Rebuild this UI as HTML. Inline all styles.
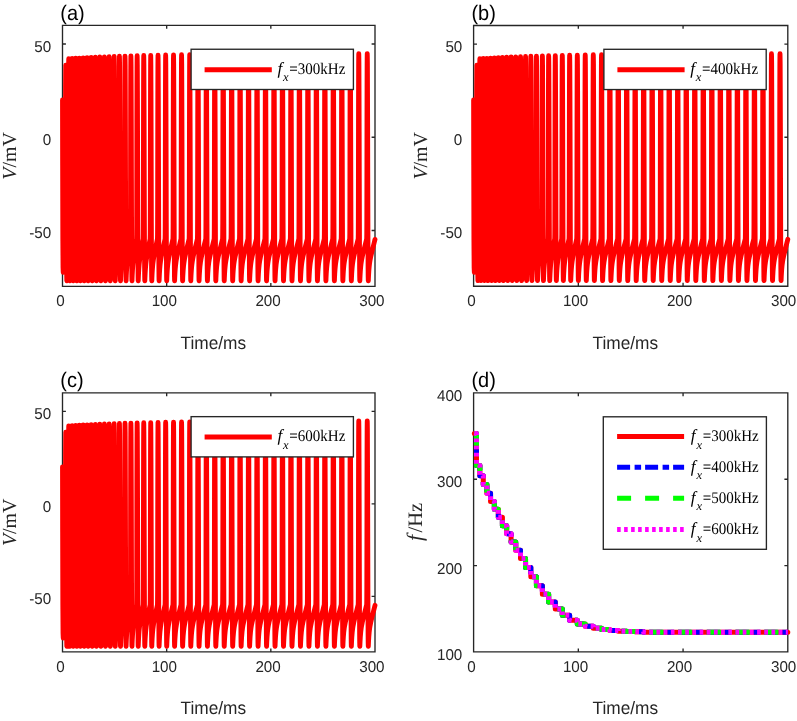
<!DOCTYPE html>
<html><head><meta charset="utf-8"><title>figure</title>
<style>html,body{margin:0;padding:0;background:#fff}svg{display:block;will-change:transform}text{white-space:pre;text-rendering:geometricPrecision}</style></head>
<body>
<svg width="797" height="721" viewBox="0 0 797 721">
<rect width="797" height="721" fill="#fff"/>
<defs>
<path id="wave" fill="none" stroke="#f00" stroke-width="4.85" stroke-linejoin="round" stroke-linecap="round" d="M0.00 74.57L0.12 139.82L0.31 214.39L0.52 242.36L0.73 247.02L2.22 234.90L2.53 223.71L2.69 213.46L2.76 208.80L2.82 197.61L2.88 175.24L2.93 139.82L2.99 96.94L3.06 61.52L3.14 50.89L3.20 42.69L3.26 39.71L3.34 41.95L3.43 49.03L3.54 65.25L3.68 106.26L3.80 152.87L3.93 197.61L4.03 227.44L4.12 243.29L4.20 251.68L4.28 255.03L4.36 255.41L4.46 250.90L4.56 246.70L4.69 241.99L4.84 236.89L5.00 231.48L5.19 225.80L5.40 219.89L5.64 213.46L5.71 208.80L5.77 197.61L5.82 175.24L5.88 139.82L5.94 96.94L6.01 61.52L6.09 44.50L6.15 36.30L6.21 33.32L6.28 35.55L6.38 42.64L6.49 65.25L6.63 106.26L6.75 152.87L6.88 197.61L6.98 227.44L7.06 243.29L7.15 251.68L7.23 255.03L7.30 255.41L7.41 251.61L7.51 248.13L7.64 244.28L7.78 240.18L7.95 235.91L8.14 231.53L8.35 227.04L8.66 220.86L9.06 213.46L9.14 208.80L9.20 197.61L9.25 175.24L9.30 139.82L9.37 96.94L9.44 61.52L9.51 44.28L9.57 36.08L9.64 33.09L9.71 35.33L9.80 42.42L9.92 65.25L10.05 106.26L10.18 152.87L10.30 197.61L10.41 227.44L10.49 243.29L10.57 251.68L10.66 255.03L10.73 255.41L10.83 251.73L10.94 248.36L11.06 244.65L11.21 240.71L11.38 236.62L11.56 232.44L11.77 228.19L12.08 222.35L12.50 215.22L12.61 213.46L12.68 208.80L12.74 197.61L12.80 175.24L12.85 139.82L12.91 96.94L12.98 61.52L13.06 44.06L13.12 35.86L13.18 32.88L13.25 35.11L13.35 42.20L13.46 65.25L13.60 106.26L13.72 152.87L13.85 197.61L13.95 227.44L14.04 243.29L14.12 251.68L14.20 255.03L14.28 255.41L14.38 251.84L14.48 248.57L14.61 244.99L14.75 241.20L14.92 237.29L15.11 233.30L15.32 229.26L15.63 223.74L16.05 217.04L16.28 213.46L16.35 208.80L16.42 197.61L16.47 175.24L16.52 139.82L16.58 96.94L16.66 61.52L16.73 43.84L16.79 35.64L16.85 32.66L16.93 34.90L17.02 41.98L17.14 65.25L17.27 106.26L17.40 152.87L17.52 197.61L17.63 227.44L17.71 243.29L17.79 251.68L17.88 255.03L17.95 255.41L18.05 251.93L18.16 248.75L18.28 245.28L18.43 241.62L18.59 237.85L18.78 234.03L18.99 230.17L19.30 224.93L19.72 218.59L20.08 213.46L20.15 208.80L20.21 197.61L20.27 175.24L20.32 139.82L20.38 96.94L20.45 61.52L20.53 43.63L20.59 35.43L20.65 32.44L20.73 34.68L20.82 41.77L20.93 65.25L21.07 106.26L21.19 152.87L21.32 197.61L21.42 227.44L21.51 243.29L21.59 251.68L21.67 255.03L21.75 255.41L21.85 252.01L21.95 248.92L22.08 245.55L22.23 242.00L22.39 238.37L22.58 234.70L22.79 231.00L23.10 226.01L23.52 220.01L24.01 213.46L24.08 208.80L24.14 197.61L24.20 175.24L24.25 139.82L24.31 96.94L24.38 61.52L24.46 43.42L24.52 35.22L24.58 32.23L24.65 34.47L24.75 41.56L24.86 65.25L25.00 106.26L25.12 152.87L25.25 197.61L25.35 227.44L25.44 243.29L25.52 251.68L25.60 255.03L25.67 255.41L25.78 252.09L25.88 249.08L26.01 245.80L26.15 242.37L26.32 238.87L26.51 235.34L26.72 231.80L27.03 227.05L27.45 221.37L28.08 213.46L28.15 208.80L28.22 197.61L28.27 175.24L28.32 139.82L28.38 96.94L28.46 61.52L28.53 43.21L28.59 35.01L28.65 32.03L28.73 34.26L28.82 41.35L28.93 65.25L29.07 106.26L29.19 152.87L29.32 197.61L29.42 227.44L29.51 243.29L29.59 251.68L29.67 255.03L29.75 255.41L29.85 252.17L29.96 249.23L30.08 246.05L30.23 242.73L30.39 239.35L30.58 235.96L30.79 232.58L31.10 228.06L31.52 222.69L32.14 215.36L32.31 213.46L32.38 208.80L32.45 197.61L32.50 175.24L32.55 139.82L32.61 96.94L32.69 61.52L32.76 43.01L32.82 34.80L32.88 31.82L32.96 34.06L33.05 41.14L33.17 65.25L33.30 106.26L33.43 152.87L33.55 197.61L33.66 227.44L33.74 243.29L33.82 251.68L33.91 255.03L33.98 255.41L34.08 252.24L34.19 249.38L34.31 246.28L34.46 243.06L34.62 239.79L34.81 236.53L35.02 233.29L35.33 228.99L35.75 223.90L36.37 217.00L36.71 213.46L36.78 208.80L36.85 197.61L36.90 175.24L36.95 139.82L37.01 96.94L37.09 61.52L37.16 42.81L37.22 34.60L37.28 31.62L37.36 33.86L37.45 40.94L37.57 65.25L37.70 106.26L37.83 152.87L37.95 197.61L38.06 227.44L38.14 243.29L38.22 251.68L38.31 255.03L38.38 255.41L38.48 252.31L38.59 249.51L38.71 246.50L38.86 243.37L39.02 240.21L39.21 237.07L39.42 233.97L39.73 229.87L40.15 225.06L40.77 218.57L41.30 213.46L41.37 208.80L41.43 197.61L41.48 175.24L41.54 139.82L41.60 96.94L41.67 61.52L41.74 42.61L41.81 34.41L41.87 31.42L41.94 33.66L42.04 40.74L42.15 65.25L42.29 106.26L42.41 152.87L42.54 197.61L42.64 227.44L42.72 243.29L42.81 251.68L42.89 255.03L42.96 255.41L43.07 252.37L43.17 249.64L43.30 246.70L43.44 243.66L43.61 240.61L43.80 237.58L44.00 234.61L44.32 230.70L44.73 226.14L45.36 220.04L46.08 213.46L46.15 208.80L46.22 197.61L46.27 175.24L46.32 139.82L46.38 96.94L46.46 61.52L46.53 42.41L46.59 34.21L46.65 31.23L46.73 33.47L46.82 40.55L46.93 65.25L47.07 106.26L47.19 152.87L47.32 197.61L47.42 227.44L47.51 243.29L47.59 251.68L47.67 255.03L47.75 255.41L47.85 252.43L47.96 249.76L48.08 246.90L48.23 243.95L48.39 240.99L48.58 238.08L48.79 235.23L49.10 231.51L49.52 227.19L50.14 221.46L51.09 213.46L51.16 208.80L51.22 197.61L51.27 175.24L51.33 139.82L51.39 96.94L51.46 61.52L51.53 42.22L51.60 34.02L51.66 31.04L51.73 33.27L51.83 40.36L51.94 65.25L52.08 106.26L52.20 152.87L52.33 197.61L52.43 227.44L52.51 243.29L52.60 251.68L52.68 255.03L52.75 255.41L52.86 252.50L52.96 249.89L53.09 247.10L53.23 244.24L53.40 241.38L53.59 238.58L53.79 235.86L54.11 232.33L54.52 228.26L55.15 222.91L56.09 215.53L56.36 213.46L56.43 208.80L56.49 197.61L56.54 175.24L56.60 139.82L56.66 96.94L56.73 61.52L56.80 42.04L56.87 33.83L56.93 30.85L57.00 33.09L57.10 40.17L57.21 65.25L57.35 106.26L57.47 152.87L57.60 197.61L57.70 227.44L57.78 243.29L57.87 251.68L57.95 255.03L58.02 255.41L58.13 252.56L58.23 250.01L58.36 247.30L58.50 244.52L58.67 241.76L58.86 239.07L59.07 236.47L59.38 233.12L59.79 229.30L60.42 224.31L61.36 217.48L61.93 213.46L62.00 208.80L62.06 197.61L62.11 175.24L62.17 139.82L62.23 96.94L62.30 61.52L62.37 41.85L62.44 33.65L62.50 30.66L62.57 32.90L62.67 39.99L62.78 65.25L62.92 106.26L63.04 152.87L63.17 197.61L63.27 227.44L63.35 243.29L63.44 251.68L63.52 255.03L63.59 255.41L63.70 252.61L63.80 250.13L63.93 247.48L64.07 244.78L64.24 242.11L64.43 239.52L64.64 237.04L64.95 233.86L65.36 230.27L65.99 225.62L66.93 219.30L67.83 213.46L67.90 208.80L67.96 197.61L68.02 175.24L68.07 139.82L68.13 96.94L68.20 61.52L68.28 41.67L68.34 33.46L68.40 30.48L68.47 32.72L68.57 39.80L68.68 65.25L68.82 106.26L68.94 152.87L69.07 197.61L69.17 227.44L69.26 243.29L69.34 251.68L69.42 255.03L69.50 255.41L69.60 252.66L69.70 250.23L69.83 247.64L69.97 245.01L70.14 242.42L70.33 239.92L70.54 237.54L70.85 234.51L71.27 231.12L71.89 226.76L72.83 220.90L74.07 213.46L74.14 208.80L74.21 197.61L74.26 175.24L74.31 139.82L74.37 96.94L74.45 61.52L74.52 41.49L74.58 33.28L74.64 30.30L74.72 32.54L74.81 39.62L74.93 65.25L75.06 106.26L75.19 152.87L75.31 197.61L75.41 227.44L75.50 243.29L75.58 251.68L75.66 255.03L75.74 255.41L75.84 252.71L75.95 250.32L76.07 247.78L76.22 245.22L76.38 242.70L76.57 240.28L76.78 237.99L77.09 235.09L77.51 231.88L78.13 227.80L79.07 222.34L80.32 215.40L80.67 213.46L80.75 208.80L80.81 197.61L80.86 175.24L80.91 139.82L80.98 96.94L81.05 61.52L81.12 41.31L81.18 33.11L81.25 30.13L81.32 32.36L81.41 39.45L81.53 65.25L81.66 106.26L81.79 152.87L81.91 197.61L82.02 227.44L82.10 243.29L82.18 251.68L82.27 255.03L82.34 255.41L82.44 252.75L82.55 250.39L82.67 247.91L82.82 245.40L82.99 242.94L83.17 240.59L83.38 238.38L83.69 235.60L84.11 232.54L84.74 228.69L85.67 223.58L86.92 217.10L87.63 213.46L87.71 208.80L87.77 197.61L87.82 175.24L87.87 139.82L87.94 96.94L88.01 61.52L88.08 41.14L88.15 32.94L88.21 29.96L88.28 32.20L88.37 39.28L88.49 65.25L88.62 106.26L88.75 152.87L88.87 197.61L88.98 227.44L89.06 243.29L89.15 251.68L89.23 255.03L89.30 255.41L89.41 252.78L89.51 250.46L89.63 248.01L89.78 245.55L89.95 243.15L90.13 240.86L90.34 238.71L90.66 236.03L91.07 233.11L91.70 229.46L92.63 224.65L93.88 218.58L94.95 213.46L95.02 208.80L95.09 197.61L95.14 175.24L95.19 139.82L95.25 96.94L95.33 61.52L95.40 40.98L95.46 32.78L95.52 29.80L95.60 32.03L95.69 39.12L95.81 65.25L95.94 106.26L96.07 152.87L96.19 197.61L96.30 227.44L96.38 243.29L96.46 251.68L96.55 255.03L96.62 255.41L96.72 252.81L96.83 250.51L96.95 248.10L97.10 245.67L97.26 243.31L97.45 241.07L97.66 238.97L97.97 236.36L98.39 233.55L99.01 230.05L99.95 225.47L101.20 219.71L102.45 214.02L102.57 213.46L102.65 208.80L102.71 197.61L102.76 175.24L102.81 139.82L102.88 96.94L102.95 61.52L103.02 40.83L103.08 32.63L103.15 29.64L103.22 31.88L103.31 38.97L103.43 65.25L103.56 106.26L103.69 152.87L103.81 197.61L103.92 227.44L104.00 243.29L104.08 251.68L104.17 255.03L104.24 255.41L104.35 252.83L104.45 250.55L104.57 248.16L104.72 245.76L104.89 243.43L105.07 241.22L105.28 239.16L105.60 236.62L106.01 233.88L106.64 230.50L107.57 226.10L108.82 220.57L110.07 215.11L110.45 213.46L110.53 208.80L110.59 197.61L110.64 175.24L110.69 139.82L110.76 96.94L110.83 61.52L110.90 40.69L110.96 32.48L111.03 29.50L111.10 31.74L111.19 38.82L111.31 65.25L111.44 106.26L111.57 152.87L111.69 197.61L111.80 227.44L111.88 243.29L111.96 251.68L112.05 255.03L112.12 255.41L112.22 252.84L112.33 250.57L112.45 248.19L112.60 245.80L112.77 243.49L112.95 241.31L113.16 239.27L113.47 236.75L113.89 234.05L114.52 230.74L115.45 226.43L116.70 221.02L117.95 215.69L118.48 213.46L118.55 208.80L118.61 197.61L118.67 175.24L118.72 139.82L118.78 96.94L118.85 61.52L118.93 40.55L118.99 32.35L119.05 29.37L119.12 31.61L119.22 38.69L119.33 65.25L119.47 106.26L119.59 152.87L119.72 197.61L119.82 227.44L119.90 243.29L119.99 251.68L120.07 255.03L120.14 255.41L120.25 252.85L120.35 250.59L120.48 248.22L120.62 245.85L120.79 243.56L120.98 241.39L121.19 239.37L121.50 236.88L121.92 234.23L122.54 230.97L123.48 226.75L124.73 221.47L125.98 216.26L126.65 213.46L126.72 208.80L126.79 197.61L126.84 175.24L126.89 139.82L126.95 96.94L127.03 61.52L127.10 40.43L127.16 32.23L127.22 29.25L127.30 31.49L127.39 38.57L127.50 65.25L127.64 106.26L127.77 152.87L127.89 197.61L127.99 227.44L128.08 243.29L128.16 251.68L128.24 255.03L128.32 255.41L128.42 252.85L128.53 250.60L128.65 248.24L128.80 245.88L128.96 243.59L129.15 241.44L129.36 239.43L129.67 236.97L130.09 234.33L130.71 231.12L131.65 226.95L132.90 221.74L134.15 216.61L134.92 213.46L134.99 208.80L135.05 197.61L135.11 175.24L135.16 139.82L135.22 96.94L135.29 61.52L135.37 40.32L135.43 32.12L135.49 29.14L135.57 31.38L135.66 38.46L135.77 65.25L135.91 106.26L136.03 152.87L136.16 197.61L136.26 227.44L136.35 243.29L136.43 251.68L136.51 255.03L136.59 255.41L136.69 252.86L136.79 250.61L136.92 248.26L137.07 245.91L137.23 243.63L137.42 241.48L137.63 239.48L137.94 237.04L138.36 234.42L138.98 231.24L139.92 227.13L141.17 221.98L142.42 216.91L143.27 213.46L143.35 208.80L143.41 197.61L143.46 175.24L143.51 139.82L143.57 96.94L143.65 61.52L143.72 40.22L143.78 32.02L143.85 29.04L143.92 31.28L144.01 38.36L144.13 65.25L144.26 106.26L144.39 152.87L144.51 197.61L144.62 227.44L144.70 243.29L144.78 251.68L144.87 255.03L144.94 255.41L145.04 252.86L145.15 250.62L145.27 248.27L145.42 245.92L145.59 243.64L145.77 241.50L145.98 239.51L146.29 237.07L146.71 234.47L147.34 231.30L148.27 227.21L149.52 222.10L150.77 217.06L151.67 213.46L151.74 208.80L151.80 197.61L151.86 175.24L151.91 139.82L151.97 96.94L152.04 61.52L152.12 40.13L152.18 31.93L152.24 28.95L152.32 31.18L152.41 38.27L152.52 65.25L152.66 106.26L152.78 152.87L152.91 197.61L153.01 227.44L153.10 243.29L153.18 251.68L153.26 255.03L153.34 255.41L153.44 252.86L153.54 250.62L153.67 248.27L153.82 245.92L153.98 243.65L154.17 241.51L154.38 239.53L154.69 237.09L155.11 234.50L155.73 231.34L156.67 227.26L157.92 222.17L159.17 217.15L160.09 213.46L160.16 208.80L160.23 197.61L160.28 175.24L160.33 139.82L160.39 96.94L160.47 61.52L160.54 40.05L160.60 31.85L160.66 28.87L160.74 31.10L160.83 38.19L160.94 65.25L161.08 106.26L161.20 152.87L161.33 197.61L161.43 227.44L161.52 243.29L161.60 251.68L161.68 255.03L161.76 255.41L161.86 252.86L161.97 250.63L162.09 248.28L162.24 245.93L162.40 243.66L162.59 241.53L162.80 239.54L163.11 237.11L163.53 234.52L164.15 231.37L165.09 227.31L166.34 222.23L167.59 217.23L168.53 213.46L168.61 208.80L168.67 197.61L168.72 175.24L168.77 139.82L168.84 96.94L168.91 61.52L168.98 39.98L169.05 31.78L169.11 28.79L169.18 31.03L169.27 38.11L169.39 65.25L169.52 106.26L169.65 152.87L169.77 197.61L169.88 227.44L169.96 243.29L170.05 251.68L170.13 255.03L170.20 255.41L170.31 252.87L170.41 250.63L170.53 248.28L170.68 245.94L170.85 243.67L171.03 241.53L171.24 239.55L171.56 237.12L171.97 234.54L172.60 231.39L173.53 227.34L174.78 222.27L176.03 217.29L177.00 213.46L177.07 208.80L177.13 197.61L177.18 175.24L177.24 139.82L177.30 96.94L177.37 61.52L177.44 39.91L177.51 31.71L177.57 28.73L177.64 30.96L177.74 38.05L177.85 65.25L177.99 106.26L178.11 152.87L178.24 197.61L178.34 227.44L178.42 243.29L178.51 251.68L178.59 255.03L178.66 255.41L178.77 252.87L178.87 250.63L179.00 248.28L179.14 245.94L179.31 243.67L179.50 241.54L179.70 239.56L180.02 237.13L180.43 234.55L181.06 231.41L182.00 227.36L183.25 222.30L184.50 217.32L185.47 213.46L185.54 208.80L185.60 197.61L185.65 175.24L185.71 139.82L185.77 96.94L185.84 61.52L185.91 39.85L185.98 31.65L186.04 28.67L186.11 30.90L186.21 37.99L186.32 65.25L186.46 106.26L186.58 152.87L186.71 197.61L186.81 227.44L186.89 243.29L186.98 251.68L187.06 255.03L187.13 255.41L187.24 252.87L187.34 250.63L187.47 248.29L187.61 245.94L187.78 243.67L187.97 241.54L188.18 239.56L188.49 237.14L188.90 234.55L189.53 231.41L190.47 227.37L191.72 222.31L192.97 217.34L193.94 213.46L194.02 208.80L194.08 197.61L194.13 175.24L194.18 139.82L194.24 96.94L194.32 61.52L194.39 39.80L194.45 31.60L194.52 28.61L194.59 30.85L194.68 37.94L194.80 65.25L194.93 106.26L195.06 152.87L195.18 197.61L195.29 227.44L195.37 243.29L195.45 251.68L195.54 255.03L195.61 255.41L195.71 252.87L195.82 250.63L195.94 248.29L196.09 245.94L196.26 243.67L196.44 241.54L196.65 239.56L196.96 237.14L197.38 234.55L198.01 231.42L198.94 227.37L200.19 222.32L201.44 217.34L202.42 213.46L202.49 208.80L202.55 197.61L202.61 175.24L202.66 139.82L202.72 96.94L202.79 61.52L202.87 39.75L202.93 31.55L202.99 28.57L203.06 30.80L203.16 37.89L203.27 65.25L203.41 106.26L203.53 152.87L203.66 197.61L203.76 227.44L203.85 243.29L203.93 251.68L204.01 255.03L204.09 255.41L204.19 252.87L204.29 250.63L204.42 248.29L204.56 245.94L204.73 243.68L204.92 241.54L205.13 239.56L205.44 237.14L205.86 234.55L206.48 231.42L207.42 227.37L208.67 222.32L209.92 217.34L210.90 213.46L210.97 208.80L211.03 197.61L211.08 175.24L211.14 139.82L211.20 96.94L211.27 61.52L211.34 39.71L211.41 31.51L211.47 28.52L211.54 30.76L211.64 37.85L211.75 65.25L211.89 106.26L212.01 152.87L212.14 197.61L212.24 227.44L212.32 243.29L212.41 251.68L212.49 255.03L212.56 255.41L212.67 252.87L212.77 250.63L212.90 248.29L213.04 245.94L213.21 243.68L213.40 241.54L213.60 239.56L213.92 237.14L214.33 234.55L214.96 231.42L215.90 227.37L217.15 222.32L218.40 217.34L219.37 213.46L219.45 208.80L219.51 197.61L219.56 175.24L219.61 139.82L219.67 96.94L219.75 61.52L219.82 39.67L219.88 31.47L219.95 28.49L220.02 30.72L220.11 37.81L220.23 65.25L220.36 106.26L220.49 152.87L220.61 197.61L220.72 227.44L220.80 243.29L220.88 251.68L220.97 255.03L221.04 255.41L221.14 252.87L221.25 250.63L221.37 248.29L221.52 245.94L221.69 243.68L221.87 241.54L222.08 239.56L222.39 237.14L222.81 234.56L223.44 231.42L224.37 227.37L225.62 222.32L226.87 217.34L227.85 213.46L227.92 208.80L227.99 197.61L228.04 175.24L228.09 139.82L228.15 96.94L228.23 61.52L228.30 39.64L228.36 31.43L228.42 28.45L228.50 30.69L228.59 37.77L228.70 65.25L228.84 106.26L228.97 152.87L229.09 197.61L229.19 227.44L229.28 243.29L229.36 251.68L229.44 255.03L229.52 255.41L229.62 252.87L229.73 250.63L229.85 248.29L230.00 245.94L230.16 243.68L230.35 241.54L230.56 239.56L230.87 237.14L231.29 234.56L231.91 231.42L232.85 227.37L234.10 222.32L235.35 217.34L236.33 213.46L236.40 208.80L236.46 197.61L236.52 175.24L236.57 139.82L236.63 96.94L236.70 61.52L236.78 39.61L236.84 31.40L236.90 28.42L236.97 30.66L237.07 37.74L237.18 65.25L237.32 106.26L237.44 152.87L237.57 197.61L237.67 227.44L237.76 243.29L237.84 251.68L237.92 255.03L238.00 255.41L238.10 252.87L238.20 250.63L238.33 248.29L238.47 245.94L238.64 243.68L238.83 241.54L239.04 239.56L239.35 237.14L239.77 234.56L240.39 231.42L241.33 227.37L242.58 222.32L243.83 217.35L244.81 213.46L244.88 208.80L244.94 197.61L244.99 175.24L245.05 139.82L245.11 96.94L245.18 61.52L245.25 39.58L245.32 31.38L245.38 28.39L245.45 30.63L245.55 37.71L245.66 65.25L245.80 106.26L245.92 152.87L246.05 197.61L246.15 227.44L246.23 243.29L246.32 251.68L246.40 255.03L246.47 255.41L246.58 252.87L246.68 250.63L246.81 248.29L246.95 245.94L247.12 243.68L247.31 241.54L247.52 239.56L247.83 237.14L248.24 234.56L248.87 231.42L249.81 227.37L251.06 222.32L252.31 217.35L253.29 213.46L253.36 208.80L253.42 197.61L253.47 175.24L253.53 139.82L253.59 96.94L253.66 61.52L253.73 39.55L253.80 31.35L253.86 28.37L253.93 30.60L254.03 37.69L254.14 65.25L254.28 106.26L254.40 152.87L254.53 197.61L254.63 227.44L254.71 243.29L254.80 251.68L254.88 255.03L254.95 255.41L255.06 252.87L255.16 250.63L255.29 248.29L255.43 245.94L255.60 243.68L255.79 241.54L255.99 239.56L256.31 237.14L256.72 234.56L257.35 231.42L258.29 227.37L259.54 222.32L260.79 217.35L261.76 213.46L261.84 208.80L261.90 197.61L261.95 175.24L262.00 139.82L262.07 96.94L262.14 61.52L262.21 39.53L262.28 31.33L262.34 28.35L262.41 30.58L262.50 37.67L262.62 65.25L262.75 106.26L262.88 152.87L263.00 197.61L263.11 227.44L263.19 243.29L263.28 251.68L263.36 255.03L263.43 255.41L263.54 252.87L263.64 250.63L263.76 248.29L263.91 245.94L264.08 243.68L264.26 241.54L264.47 239.56L264.79 237.14L265.20 234.56L265.83 231.42L266.76 227.38L268.01 222.32L269.26 217.35L270.24 213.46L270.32 208.80L270.38 197.61L270.43 175.24L270.48 139.82L270.55 96.94L270.62 61.52L270.69 39.51L270.75 31.31L270.82 28.33L270.89 30.56L270.98 37.65L271.10 65.25L271.23 106.26L271.36 152.87L271.48 197.61L271.59 227.44L271.67 243.29L271.75 251.68L271.84 255.03L271.91 255.41L272.02 252.87L272.12 250.63L272.24 248.29L272.39 245.94L272.56 243.68L272.74 241.54L272.95 239.56L273.27 237.14L273.68 234.56L274.31 231.42L275.24 227.38L276.49 222.32L277.74 217.35L278.72 213.46L278.80 208.80L278.86 197.61L278.91 175.24L278.96 139.82L279.03 96.94L279.10 61.52L279.17 39.49L279.23 31.29L279.30 28.31L279.37 30.54L279.46 37.63L279.58 65.25L279.71 106.26L279.84 152.87L279.96 197.61L280.07 227.44L280.15 243.29L280.23 251.68L280.32 255.03L280.39 255.41L280.50 252.87L280.60 250.63L280.72 248.29L280.87 245.94L281.04 243.68L281.22 241.54L281.43 239.56L281.75 237.14L282.16 234.56L282.79 231.42L283.72 227.38L284.97 222.33L286.22 217.35L287.20 213.46L287.28 208.80L287.34 197.61L287.39 175.24L287.44 139.82L287.51 96.94L287.58 61.52L287.65 39.48L287.72 31.27L287.78 28.29L287.85 30.53L287.94 37.61L288.06 65.25L288.19 106.26L288.32 152.87L288.44 197.61L288.55 227.44L288.63 243.29L288.72 251.68L288.80 255.03L288.87 255.41L288.98 252.87L289.08 250.63L289.20 248.29L289.35 245.94L289.52 243.68L289.70 241.54L289.91 239.56L290.23 237.14L290.64 234.56L291.27 231.42L292.20 227.38L293.45 222.33L294.70 217.35L295.69 213.46L295.76 208.80L295.82 197.61L295.87 175.24L295.93 139.82L295.99 96.94L296.06 61.52L296.13 39.46L296.20 31.26L296.26 28.28L296.33 30.51L296.43 37.60L296.54 65.25L296.68 106.26L296.80 152.87L296.93 197.61L297.03 227.44L297.11 243.29L297.20 251.68L297.28 255.03L297.35 255.41L297.46 252.87L297.56 250.63L297.69 248.29L297.83 245.94L298.00 243.68L298.19 241.54L298.39 239.56L298.71 237.14L299.12 234.56L299.75 231.42L300.69 227.38L301.94 222.33L303.19 217.36L304.17 213.46L304.24 208.80L304.30 197.61L304.35 175.24L304.41 139.82L304.47 96.94L304.54 61.52L304.61 39.45L304.68 31.25L304.74 28.26L304.81 30.50L304.91 37.59L305.02 65.25L305.16 106.26L305.28 152.87L305.41 197.61L305.51 227.44L305.59 243.29L305.68 251.68L305.76 255.03L305.83 255.41L305.94 252.87L306.04 250.63L306.17 248.29L306.31 245.94L306.48 243.68L306.67 241.54L306.88 239.56L307.19 237.14L307.60 234.56L308.23 231.42L309.17 227.38L310.42 222.33L311.67 217.36L312.50 214.05"/>
</defs>
<g><path d="M62.5 25.4H375.0V286.4H62.5ZM166.67 286.4v-3.4M166.67 25.4v3.4M270.83 286.4v-3.4M270.83 25.4v3.4M62.5 44.04h3.4M375.0 44.04h-3.4M62.5 137.26h3.4M375.0 137.26h-3.4M62.5 230.47h3.4M375.0 230.47h-3.4" fill="none" stroke="#262626" stroke-width="1.35" stroke-linejoin="miter"/><g transform="translate(62.5 25.4) scale(1.00000 1.00000)"><use href="#wave"/></g><rect x="191.10" y="49.25" width="162.30" height="40.25" fill="#fff" stroke="#262626" stroke-width="1.35"/><path d="M204.60 69.70h67.2" stroke="#f00" stroke-width="5.0"/><text x="277.40" y="73.90" font-family='"Liberation Serif", serif' fill="#000" font-size="17" font-style="italic">f</text><text x="283.00" y="81.30" font-family='"Liberation Serif", serif' fill="#000" font-size="12.5" font-style="italic">x</text><text transform="translate(289.30 73.90) scale(0.928 1)" font-family='"Liberation Serif", serif' fill="#000" font-size="16.2">=300kHz</text><g font-family='"Liberation Sans", sans-serif' font-size="15.2" fill="#262626"><text transform="matrix(1 0 0 1.035 60.50 306.30)" text-anchor="middle">0</text><text transform="matrix(1 0 0 1.035 164.30 306.30)" text-anchor="middle">100</text><text transform="matrix(1 0 0 1.035 268.10 306.30)" text-anchor="middle">200</text><text transform="matrix(1 0 0 1.035 371.90 306.30)" text-anchor="middle">300</text><text transform="matrix(1 0 0 1.035 51.20 52.04)" text-anchor="end">50</text><text transform="matrix(1 0 0 1.035 51.20 145.26)" text-anchor="end">0</text><text transform="matrix(1 0 0 1.035 51.20 238.47)" text-anchor="end">-50</text></g><text transform="matrix(1 0 0 1.05 60.30 20.00)" font-family='"Liberation Sans", sans-serif' font-size="20" fill="#000">(a)</text><text transform="matrix(1 0 0 1.04 213.35 348.80)" text-anchor="middle" font-family='"Liberation Sans", sans-serif' font-size="17.3" fill="#262626">Time/ms</text><text transform="translate(15.90 155.90) rotate(-90)" text-anchor="middle" font-family='"Liberation Serif", serif' font-size="19.9" fill="#262626"><tspan font-style="italic">V</tspan>/mV</text></g>
<g><path d="M473.6 25.45H787.8V286.25H473.6ZM578.33 286.25v-3.4M578.33 25.45v3.4M683.07 286.25v-3.4M683.07 25.45v3.4M473.6 44.08h3.4M787.8 44.08h-3.4M473.6 137.22h3.4M787.8 137.22h-3.4M473.6 230.36h3.4M787.8 230.36h-3.4" fill="none" stroke="#262626" stroke-width="1.35" stroke-linejoin="miter"/><g transform="translate(473.6 25.45) scale(1.00544 0.99923)"><use href="#wave"/></g><rect x="603.90" y="49.30" width="162.30" height="40.25" fill="#fff" stroke="#262626" stroke-width="1.35"/><path d="M617.40 69.75h67.2" stroke="#f00" stroke-width="5.0"/><text x="690.20" y="73.95" font-family='"Liberation Serif", serif' fill="#000" font-size="17" font-style="italic">f</text><text x="695.80" y="81.35" font-family='"Liberation Serif", serif' fill="#000" font-size="12.5" font-style="italic">x</text><text transform="translate(702.10 73.95) scale(0.928 1)" font-family='"Liberation Serif", serif' fill="#000" font-size="16.2">=400kHz</text><g font-family='"Liberation Sans", sans-serif' font-size="15.2" fill="#262626"><text transform="matrix(1 0 0 1.035 471.50 306.15)" text-anchor="middle">0</text><text transform="matrix(1 0 0 1.035 575.55 306.15)" text-anchor="middle">100</text><text transform="matrix(1 0 0 1.035 679.60 306.15)" text-anchor="middle">200</text><text transform="matrix(1 0 0 1.035 783.65 306.15)" text-anchor="middle">300</text><text transform="matrix(1 0 0 1.035 462.30 52.08)" text-anchor="end">50</text><text transform="matrix(1 0 0 1.035 462.30 145.22)" text-anchor="end">0</text><text transform="matrix(1 0 0 1.035 462.30 238.36)" text-anchor="end">-50</text></g><text transform="matrix(1 0 0 1.05 471.40 20.05)" font-family='"Liberation Sans", sans-serif' font-size="20" fill="#000">(b)</text><text transform="matrix(1 0 0 1.04 625.30 348.65)" text-anchor="middle" font-family='"Liberation Sans", sans-serif' font-size="17.3" fill="#262626">Time/ms</text><text transform="translate(427.00 155.85) rotate(-90)" text-anchor="middle" font-family='"Liberation Serif", serif' font-size="19.9" fill="#262626"><tspan font-style="italic">V</tspan>/mV</text></g>
<g><path d="M62.5 392.8H375.0V651.9H62.5ZM166.67 651.9v-3.4M166.67 392.8v3.4M270.83 651.9v-3.4M270.83 392.8v3.4M62.5 411.31h3.4M375.0 411.31h-3.4M62.5 503.84h3.4M375.0 503.84h-3.4M62.5 596.38h3.4M375.0 596.38h-3.4" fill="none" stroke="#262626" stroke-width="1.35" stroke-linejoin="miter"/><g transform="translate(62.5 392.8) scale(1.00000 0.99272)"><use href="#wave"/></g><rect x="191.10" y="416.65" width="162.30" height="40.25" fill="#fff" stroke="#262626" stroke-width="1.35"/><path d="M204.60 437.10h67.2" stroke="#f00" stroke-width="5.0"/><text x="277.40" y="441.30" font-family='"Liberation Serif", serif' fill="#000" font-size="17" font-style="italic">f</text><text x="283.00" y="448.70" font-family='"Liberation Serif", serif' fill="#000" font-size="12.5" font-style="italic">x</text><text transform="translate(289.30 441.30) scale(0.928 1)" font-family='"Liberation Serif", serif' fill="#000" font-size="16.2">=600kHz</text><g font-family='"Liberation Sans", sans-serif' font-size="15.2" fill="#262626"><text transform="matrix(1 0 0 1.035 60.50 671.80)" text-anchor="middle">0</text><text transform="matrix(1 0 0 1.035 164.30 671.80)" text-anchor="middle">100</text><text transform="matrix(1 0 0 1.035 268.10 671.80)" text-anchor="middle">200</text><text transform="matrix(1 0 0 1.035 371.90 671.80)" text-anchor="middle">300</text><text transform="matrix(1 0 0 1.035 51.20 419.31)" text-anchor="end">50</text><text transform="matrix(1 0 0 1.035 51.20 511.84)" text-anchor="end">0</text><text transform="matrix(1 0 0 1.035 51.20 604.38)" text-anchor="end">-50</text></g><text transform="matrix(1 0 0 1.05 60.30 387.40)" font-family='"Liberation Sans", sans-serif' font-size="20" fill="#000">(c)</text><text transform="matrix(1 0 0 1.04 213.35 714.30)" text-anchor="middle" font-family='"Liberation Sans", sans-serif' font-size="17.3" fill="#262626">Time/ms</text><text transform="translate(15.90 522.35) rotate(-90)" text-anchor="middle" font-family='"Liberation Serif", serif' font-size="19.9" fill="#262626"><tspan font-style="italic">V</tspan>/mV</text></g>
<g><path d="M473.6 392.85H787.8V651.9H473.6ZM578.33 651.9v-3.4M578.33 392.85v3.4M683.07 651.9v-3.4M683.07 392.85v3.4M473.6 479.20h3.4M787.8 479.20h-3.4M473.6 565.55h3.4M787.8 565.55h-3.4" fill="none" stroke="#262626" stroke-width="1.35" stroke-linejoin="miter"/><path d="M474.33 433.43L476.48 433.43L476.48 465.38L479.84 465.38L479.84 475.76L483.29 475.76L483.29 484.51L486.85 484.51L486.85 493.32L490.55 493.32L490.55 501.44L494.36 501.44L494.36 509.29L498.31 509.29L498.31 517.35L502.41 517.35L502.41 525.69L506.66 525.69L506.66 533.82L511.09 533.82L511.09 542.06L515.70 542.06L515.70 550.24L520.51 550.24L520.51 558.58L525.54 558.58L525.54 567.58L530.84 567.58L530.84 576.77L536.44 576.77L536.44 585.83L542.37 585.83L542.37 594.17L548.65 594.17L548.65 602.02L555.29 602.02L555.29 609.04L562.29 609.04L562.29 615.32L569.64 615.32L569.64 620.25L577.31 620.25L577.31 624.10L585.23 624.10L585.23 626.15L593.30 626.15L593.30 628.19L601.52 628.19L601.52 629.47L609.83 629.47L609.83 630.57L618.23 630.57L618.23 631.13L626.67 631.13L626.67 631.43L635.14 631.43L635.14 631.74L643.63 631.74L643.63 632.21L787.80 632.21" fill="none" stroke-width="5.0" stroke-linejoin="round" stroke="#f00" stroke-linecap="round"/><path d="M474.33 433.43L476.48 433.43L476.48 465.38L479.84 465.38L479.84 475.76L483.29 475.76L483.29 484.51L486.85 484.51L486.85 493.32L490.55 493.32L490.55 501.44L494.36 501.44L494.36 509.29L498.31 509.29L498.31 517.35L502.41 517.35L502.41 525.69L506.66 525.69L506.66 533.82L511.09 533.82L511.09 542.06L515.70 542.06L515.70 550.24L520.51 550.24L520.51 558.58L525.54 558.58L525.54 567.58L530.84 567.58L530.84 576.77L536.44 576.77L536.44 585.83L542.37 585.83L542.37 594.17L548.65 594.17L548.65 602.02L555.29 602.02L555.29 609.04L562.29 609.04L562.29 615.32L569.64 615.32L569.64 620.25L577.31 620.25L577.31 624.10L585.23 624.10L585.23 626.15L593.30 626.15L593.30 628.19L601.52 628.19L601.52 629.47L609.83 629.47L609.83 630.57L618.23 630.57L618.23 631.13L626.67 631.13L626.67 631.43L635.14 631.43L635.14 631.74L643.63 631.74L643.63 632.21L787.80 632.21" fill="none" stroke-width="5.0" stroke-linejoin="round" stroke="#00f" stroke-dasharray="13.348 4.620 6.674 4.107"/><path d="M474.33 433.43L476.48 433.43L476.48 465.38L479.84 465.38L479.84 475.76L483.29 475.76L483.29 484.51L486.85 484.51L486.85 493.32L490.55 493.32L490.55 501.44L494.36 501.44L494.36 509.29L498.31 509.29L498.31 517.35L502.41 517.35L502.41 525.69L506.66 525.69L506.66 533.82L511.09 533.82L511.09 542.06L515.70 542.06L515.70 550.24L520.51 550.24L520.51 558.58L525.54 558.58L525.54 567.58L530.84 567.58L530.84 576.77L536.44 576.77L536.44 585.83L542.37 585.83L542.37 594.17L548.65 594.17L548.65 602.02L555.29 602.02L555.29 609.04L562.29 609.04L562.29 615.32L569.64 615.32L569.64 620.25L577.31 620.25L577.31 624.10L585.23 624.10L585.23 626.15L593.30 626.15L593.30 628.19L601.52 628.19L601.52 629.47L609.83 629.47L609.83 630.57L618.23 630.57L618.23 631.13L626.67 631.13L626.67 631.43L635.14 631.43L635.14 631.74L643.63 631.74L643.63 632.21L787.80 632.21" fill="none" stroke-width="5.0" stroke-linejoin="round" stroke="#0f0" stroke-dasharray="14.374 14.374"/><path d="M474.33 433.43L476.48 433.43L476.48 465.38L479.84 465.38L479.84 475.76L483.29 475.76L483.29 484.51L486.85 484.51L486.85 493.32L490.55 493.32L490.55 501.44L494.36 501.44L494.36 509.29L498.31 509.29L498.31 517.35L502.41 517.35L502.41 525.69L506.66 525.69L506.66 533.82L511.09 533.82L511.09 542.06L515.70 542.06L515.70 550.24L520.51 550.24L520.51 558.58L525.54 558.58L525.54 567.58L530.84 567.58L530.84 576.77L536.44 576.77L536.44 585.83L542.37 585.83L542.37 594.17L548.65 594.17L548.65 602.02L555.29 602.02L555.29 609.04L562.29 609.04L562.29 615.32L569.64 615.32L569.64 620.25L577.31 620.25L577.31 624.10L585.23 624.10L585.23 626.15L593.30 626.15L593.30 628.19L601.52 628.19L601.52 629.47L609.83 629.47L609.83 630.57L618.23 630.57L618.23 631.13L626.67 631.13L626.67 631.43L635.14 631.43L635.14 631.74L643.63 631.74L643.63 632.21L787.80 632.21" fill="none" stroke-width="5.0" stroke-linejoin="round" stroke="#f0f" stroke-dasharray="3.696 3.491"/><rect x="603.3" y="416.8" width="163.10" height="132.50" fill="#fff" stroke="#262626" stroke-width="1.35"/><path d="M617.1 436.4H684.1" stroke="#f00" stroke-width="5.0"/><text x="690.80" y="441.10" font-family='"Liberation Serif", serif' fill="#000" font-size="17" font-style="italic">f</text><text x="696.40" y="448.50" font-family='"Liberation Serif", serif' fill="#000" font-size="12.5" font-style="italic">x</text><text transform="translate(702.70 441.10) scale(0.928 1)" font-family='"Liberation Serif", serif' fill="#000" font-size="16.2">=300kHz</text><path d="M617.1 467.3H684.1" stroke="#00f" stroke-width="5.0" stroke-dasharray="13 4.5 6.5 4"/><text x="690.80" y="472.00" font-family='"Liberation Serif", serif' fill="#000" font-size="17" font-style="italic">f</text><text x="696.40" y="479.40" font-family='"Liberation Serif", serif' fill="#000" font-size="12.5" font-style="italic">x</text><text transform="translate(702.70 472.00) scale(0.928 1)" font-family='"Liberation Serif", serif' fill="#000" font-size="16.2">=400kHz</text><path d="M617.1 498.2H684.1" stroke="#0f0" stroke-width="5.0" stroke-dasharray="14 14"/><text x="690.80" y="502.90" font-family='"Liberation Serif", serif' fill="#000" font-size="17" font-style="italic">f</text><text x="696.40" y="510.30" font-family='"Liberation Serif", serif' fill="#000" font-size="12.5" font-style="italic">x</text><text transform="translate(702.70 502.90) scale(0.928 1)" font-family='"Liberation Serif", serif' fill="#000" font-size="16.2">=500kHz</text><path d="M617.1 529.4H684.1" stroke="#f0f" stroke-width="5.0" stroke-dasharray="3.6 3.4"/><text x="690.80" y="534.10" font-family='"Liberation Serif", serif' fill="#000" font-size="17" font-style="italic">f</text><text x="696.40" y="541.50" font-family='"Liberation Serif", serif' fill="#000" font-size="12.5" font-style="italic">x</text><text transform="translate(702.70 534.10) scale(0.928 1)" font-family='"Liberation Serif", serif' fill="#000" font-size="16.2">=600kHz</text><g font-family='"Liberation Sans", sans-serif' font-size="15.2" fill="#262626"><text transform="matrix(1 0 0 1.035 471.50 671.80)" text-anchor="middle">0</text><text transform="matrix(1 0 0 1.035 575.55 671.80)" text-anchor="middle">100</text><text transform="matrix(1 0 0 1.035 679.60 671.80)" text-anchor="middle">200</text><text transform="matrix(1 0 0 1.035 783.65 671.80)" text-anchor="middle">300</text><text transform="matrix(1 0 0 1.035 462.30 400.85)" text-anchor="end">400</text><text transform="matrix(1 0 0 1.035 462.30 487.20)" text-anchor="end">300</text><text transform="matrix(1 0 0 1.035 462.30 573.55)" text-anchor="end">200</text><text transform="matrix(1 0 0 1.035 462.30 659.90)" text-anchor="end">100</text></g><text transform="matrix(1 0 0 1.05 471.40 387.45)" font-family='"Liberation Sans", sans-serif' font-size="20" fill="#000">(d)</text><text transform="matrix(1 0 0 1.04 625.30 714.30)" text-anchor="middle" font-family='"Liberation Sans", sans-serif' font-size="17.3" fill="#262626">Time/ms</text><g transform="translate(422.1 522.4) rotate(-90)"><text x="-18.7" y="0" font-family='"Liberation Serif", serif' fill="#262626" font-size="22" font-style="italic">f</text><text x="-10.0" y="0" font-family='"Liberation Serif", serif' fill="#262626" font-size="20.5">/Hz</text></g></g>
</svg>
</body></html>
